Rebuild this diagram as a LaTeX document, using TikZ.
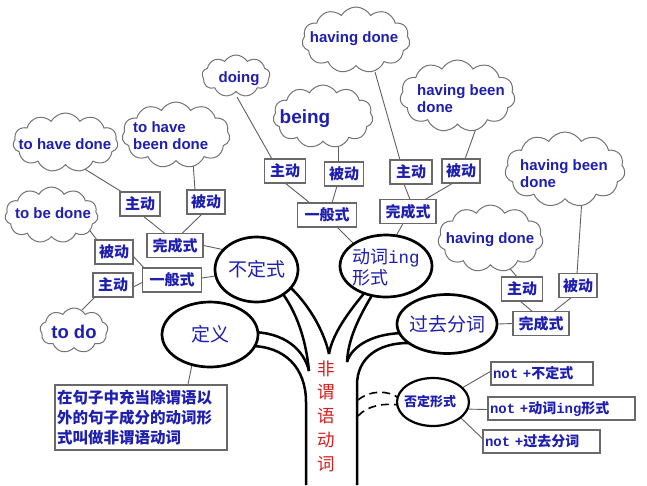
\documentclass[tikz,border=0pt]{standalone}
\usepackage{fontspec}
\setmainfont{Liberation Sans}
\newfontfamily\cjk{Noto Sans CJK SC}
\newfontfamily\mono{Liberation Mono}
\usetikzlibrary{shapes.symbols,shapes.geometric,calc,backgrounds}
\definecolor{txtblue}{RGB}{30,30,175}
\definecolor{trunkred}{RGB}{215,30,30}
\definecolor{boxgray}{RGB}{105,105,105}
\definecolor{cloudgray}{RGB}{115,115,115}
\definecolor{linegray}{RGB}{95,95,95}
\begin{document}
\begin{tikzpicture}[x=1pt,y=-1pt,
  cloudshape/.style={cloud, cloud puffs=11, cloud puff arc=120, cloud ignores aspect, draw=cloudgray, line width=1pt, fill=white, inner sep=0pt},
  cloudtxt/.style={text=txtblue, font=\bfseries\fontsize{15}{17}\selectfont, inner sep=0pt, align=left},
  wbox/.style={rectangle, draw=boxgray, line width=1.3pt, fill=white, text=txtblue, font=\cjk\bfseries\fontsize{15}{15}\selectfont, inner sep=0pt, minimum height=24pt},
  bigell/.style={ellipse, draw=black, line width=2.7pt, fill=white, text=txtblue, inner sep=0pt, font=\cjk\fontsize{19}{21}\selectfont},
  conn/.style={draw=linegray, line width=0.9pt},
  trunkln/.style={draw=black, line width=2.5pt},
  negdash/.style={draw=black, line width=1.6pt, dash pattern=on 8pt off 5pt},
  notbox/.style={rectangle, draw=boxgray, line width=1.3pt, fill=white, text=txtblue, inner ysep=0pt, inner xsep=2pt, minimum height=23pt, align=left, font=\cjk\bfseries\fontsize{14}{14}\selectfont},
]
\path[use as bounding box] (0,0) rectangle (647,485);

% ---------- clouds ----------
\node[cloudshape, minimum width=105pt, minimum height=59pt] (thd) at (65.5,142.5) {};
\node[cloudshape, minimum width=108pt, minimum height=66pt] (thbd) at (176,135) {};
\node[cloudshape, minimum width=93pt, minimum height=56pt] (tbd) at (51.5,215) {};
\node[cloudshape, cloud puffs=9, minimum width=68pt, minimum height=45pt] (todo) at (74,330.5) {};
\node[cloudshape, cloud puffs=9, minimum width=68pt, minimum height=42pt] (doing) at (236,76) {};
\node[cloudshape, minimum width=108pt, minimum height=66pt] (hd1) at (356,40) {};
\node[cloudshape, minimum width=100pt, minimum height=63pt] (being) at (323,116.5) {};
\node[cloudshape, minimum width=115pt, minimum height=72pt] (hbd1) at (457.5,96) {};
\node[cloudshape, minimum width=120pt, minimum height=75pt] (hbd2) at (565,169.5) {};
\node[cloudshape, minimum width=105pt, minimum height=67pt] (hd2) at (490.5,238.5) {};

\node[cloudtxt] (t_thd) at (65,144) {to have done};
\node[cloudtxt, anchor=west] (t_thbd) at (133,136) {to have\\been done};
\node[cloudtxt] (t_tbd) at (53,213) {to be done};
\node[cloudtxt, font=\bfseries\fontsize{18.5}{20}\selectfont] (t_todo) at (74,332) {to do};
\node[cloudtxt] (t_doing) at (239,79) {doing};
\node[cloudtxt] (t_hd1) at (354,39) {having done};
\node[cloudtxt, font=\bfseries\fontsize{19}{21}\selectfont] (t_being) at (305,119) {being};
\node[cloudtxt, anchor=west] (t_hbd1) at (417,99) {having been\\done};
\node[cloudtxt, anchor=west] (t_hbd2) at (520,173.5) {having been\\done};
\node[cloudtxt] (t_hd2) at (490,240) {having done};

% ---------- small boxes ----------
\node[wbox, minimum width=40pt] (zd1) at (140,204) {主动};
\node[wbox, minimum width=38pt] (bd1) at (206,202) {被动};
\node[wbox, minimum width=56pt] (wc1) at (175,245.5) {完成式};
\node[wbox, minimum width=38pt] (bd2) at (114,252) {被动};
\node[wbox, minimum width=40pt] (zd2) at (113,285) {主动};
\node[wbox, minimum width=59pt] (yb1) at (172,280) {一般式};
\node[wbox, minimum width=41pt] (zd3) at (285,171) {主动};
\node[wbox, minimum width=39pt] (bd3) at (344,174) {被动};
\node[wbox, minimum width=59pt] (yb2) at (327,215) {一般式};
\node[wbox, minimum width=42pt] (zd4) at (411,172) {主动};
\node[wbox, minimum width=38pt] (bd4) at (461,171) {被动};
\node[wbox, minimum width=56pt] (wc2) at (408,211.5) {完成式};
\node[wbox, minimum width=41pt] (zd5) at (522,289) {主动};
\node[wbox, minimum width=38pt] (bd5) at (578,285.5) {被动};
\node[wbox, minimum width=56pt] (wc3) at (541,323.5) {完成式};

\node[wbox, minimum width=172pt, minimum height=65pt, text width=168pt, align=left,
      font=\cjk\bfseries\fontsize{15.5}{20}\selectfont] (defbox) at (141,417.5)
      {在句子中充当除谓语以\\外的句子成分的动词形\\式叫做非谓语动词};

% ---------- ellipses ----------
\node[bigell, minimum width=83pt, minimum height=65pt] (bdx) at (256.5,269.5) {\makebox[0pt]{不定式}};
\node[bigell, minimum width=96pt, minimum height=65pt] (dy) at (210,334.5) {\makebox[0pt]{定义}};
\node[bigell, minimum width=92pt, minimum height=62pt] (ing) at (386,266) {};
\node[text=txtblue, font=\cjk\fontsize{18}{21}\selectfont, align=left, anchor=west, inner sep=0pt] (t_ing) at (352,267.5) {动词{\mono\fontsize{17.5}{21}\selectfont ing}\\形式};
\node[bigell, minimum width=100pt, minimum height=59pt] (gq) at (447,324) {\makebox[0pt]{过去分词}};
\node[bigell, line width=2.2pt, minimum width=72pt, minimum height=48pt, font=\cjk\bfseries\fontsize{13}{13}\selectfont] (fd) at (433,402) {\makebox[0pt]{否定形式\hspace*{6pt}}};

% ---------- not boxes ----------
\node[notbox, minimum width=102pt, text width=98pt] (nb1) at (542,373.5) {{\mono not +}不定式};
\node[notbox, minimum width=147pt, text width=143pt] (nb2) at (561.5,408.5) {{\mono not +}动词{\mono ing}形式};
\node[notbox, minimum width=117pt, text width=113pt] (nb3) at (541.5,441.5) {{\mono not +}过去分词};

% ---------- trunk text ----------
\node[text=trunkred, font=\cjk\fontsize{17.5}{23.75}\selectfont, align=center, inner sep=0pt] (trunktxt) at (326,416) {非\\谓\\语\\动\\词};

\coordinate (trA) at (358,400);
\coordinate (trB) at (358,416);

% ---------- lines behind ----------
\begin{scope}[on background layer]
  % trunk
  \draw[trunkln] (250,346) .. controls (285,346) and (306,368) .. (306,402) -- (306,485);
  \draw[trunkln] (250,332) .. controls (285,332) and (304,350) .. (309,371);
  \draw[trunkln] (280,290) .. controls (297,312) and (306,340) .. (309,371);
  \draw[trunkln] (290,287) .. controls (312,308) and (325,335) .. (329,354);
  \draw[trunkln] (367,290) .. controls (348,312) and (332,335) .. (329,354);
  \draw[trunkln] (374,292) .. controls (358,318) and (348,340) .. (347,362);
  \draw[trunkln] (405,333) .. controls (375,333) and (352,345) .. (347,362);
  \draw[trunkln] (408,343) .. controls (378,343) and (357,358) .. (357,385) -- (357,485);
  % dashed to negation
  \draw[negdash] (trA) .. controls (370,390) and (388,390) .. ($(fd.west)+(3,-4)$);
  \draw[negdash] (trB) .. controls (368,405) and (385,403) .. ($(fd.west)+(3,3)$);
  % connectors
  \draw[conn] ($(thd)+(17.5,25.5)$) -- ($(zd1)+(-18,-12)$);
  \draw[conn] ($(thbd)+(17,27)$) -- ($(bd1)+(-11,-12)$);
  \draw[conn] ($(zd1)+(3,12)$) -- ($(wc1)+(-10,-12)$);
  \draw[conn] ($(bd1)+(-4,12)$) -- ($(wc1)+(7,-12)$);
  \draw[conn] (wc1.east) -- ($(bdx)+(-34,-20)$);
  \draw[conn] ($(tbd)+(36.5,13)$) -- ($(bd2)+(-17,-12)$);
  \draw[conn] ($(bd2)+(19,4)$) -- ($(yb1)+(-27,-11)$);
  \draw[conn] ($(zd2)+(20,2)$) -- ($(yb1)+(-29,2)$);
  \draw[conn] ($(zd2)+(-18,12)$) -- ($(todo)+(8,-20.5)$);
  \draw[conn] ($(yb1.east)+(0,-2)$) -- ($(bdx)+(-38,6)$);
  \draw[conn] ($(doing)+(1,21)$) -- ($(zd3)+(-13,-12)$);
  \draw[conn] ($(being)+(15,30.5)$) -- ($(bd3)+(-6,-12)$);
  \draw[conn] ($(zd3)+(0,12)$) -- ($(yb2)+(-17,-12)$);
  \draw[conn] ($(bd3)+(-7,12)$) -- ($(yb2)+(5,-12)$);
  \draw[conn] ($(yb2)+(10,12)$) -- ($(ing)+(-32,-22)$);
  \draw[conn] ($(hd1)+(19,32)$) -- ($(zd4)+(-11,-12)$);
  \draw[conn] ($(zd4)+(-7,12)$) -- ($(wc2)+(2,-12)$);
  \draw[conn] ($(hbd1)+(20.5,27)$) -- ($(bd4)+(4,-12)$);
  \draw[conn] ($(bd4)+(-8,12)$) -- ($(wc2)+(17,-12)$);
  \draw[conn] ($(wc2)+(-5,12)$) -- ($(ing)+(10,-30)$);
  \draw[conn] ($(hbd2)+(17,28.5)$) -- ($(bd5)+(-1,-11.5)$);
  \draw[conn] ($(hd2)+(16.5,26.5)$) -- ($(zd5)+(-5,-12)$);
  \draw[conn] ($(zd5)+(-2,12)$) -- ($(wc3)+(-8,-11.5)$);
  \draw[conn] ($(bd5)+(-6,11.5)$) -- ($(wc3)+(12,-11.5)$);
  \draw[conn] (wc3.west) -- (gq.east);
  \draw[conn] ($(dy)+(-18,30)$) -- ($(defbox.north)+(47,0)$);
  \draw[conn] ($(fd)+(29,-14)$) -- ($(nb1.west)+(0,-2)$);
  \draw[conn] ($(fd)+(30,7)$) -- ($(nb2.west)+(0,1)$);
  \draw[conn] ($(fd)+(28,16)$) -- ($(nb3.west)+(0,-3)$);
\end{scope}
\end{tikzpicture}
\end{document}
